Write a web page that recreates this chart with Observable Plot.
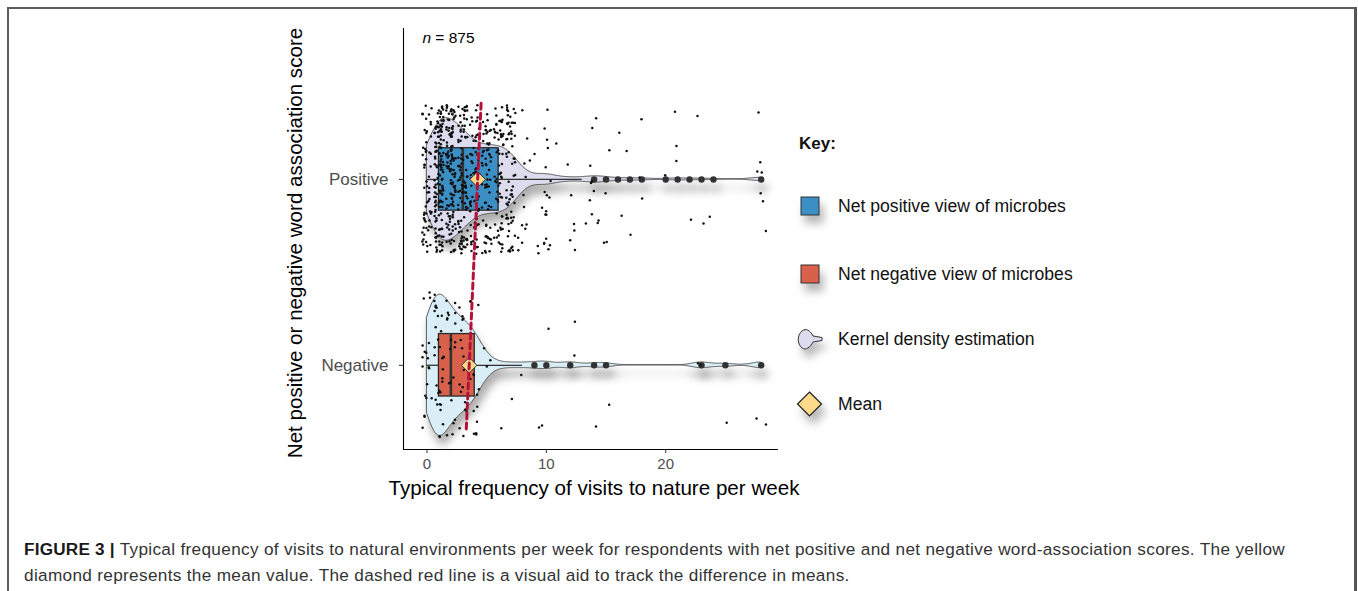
<!DOCTYPE html>
<html>
<head>
<meta charset="utf-8">
<script src="https://cdn.jsdelivr.net/npm/d3@7"></script>
<script src="https://cdn.jsdelivr.net/npm/@observablehq/plot@0.6"></script>
<style>
  html, body { margin: 0; padding: 0; background: #fff; overflow: hidden; }
  body { width: 1358px; height: 591px; position: relative; font-family: "Liberation Sans", Arial, Helvetica, sans-serif; }
  #frame { position: absolute; left: 7px; top: 7px; width: 1345px; height: 640px; border-top: 2px solid #5c5c5c; border-left: 2px solid #5c5c5c; border-right: 3px solid #555; }
  #chart { position: absolute; left: 0; top: 0; }
  #legend { position: absolute; left: 0; top: 0; pointer-events: none; }
  .cap { position: absolute; left: 24px; font-size: 17.2px; letter-spacing: 0.32px; color: #333; white-space: nowrap; }
  .cap b { color: #1a1a1a; letter-spacing: 0.2px; }
</style>
</head>
<body>
<div id="frame"></div>
<div id="chart"></div>
<svg id="legend" width="1358" height="591"></svg>
<div class="cap" id="cap1" style="top:539px"><b>FIGURE 3 |</b> Typical frequency of visits to natural environments per week for respondents with net positive and net negative word-association scores. The yellow</div>
<div class="cap" id="cap2" style="top:565px">diamond represents the mean value. The dashed red line is a visual aid to track the difference in means.</div>
<script>
// ---------------- data ----------------
const groups = ["Positive", "Negative"];
// distinct response values and how many respondents gave each
const positiveValues = [0, 1, 2, 3, 4, 5, 6, 7, 8, 9, 10, 11, 12, 13, 14, 15, 16, 17, 18, 20, 21, 22, 23, 24, 28];
const positiveCounts = [60, 140, 117, 100, 65, 65, 65, 65, 12, 4, 18, 1, 6, 1, 10, 4, 2, 2, 3, 1, 3, 1, 2, 1, 7];
const negativeValues = [0, 1, 2, 3, 4, 5, 6, 7, 8, 9, 10, 12, 14, 15, 23, 25, 28];
const negativeCounts = [19, 32, 20, 17, 14, 3, 1, 1, 1, 1, 2, 2, 1, 1, 2, 1, 2];
const xTicks = [0, 10, 20];
const sampleSize = 875;
const xTitle = "Typical frequency of visits to nature per week";
const yTitle = "Net positive or negative word association score";
const legendTitle = "Key:";
const legendLabels = ["Net positive view of microbes", "Net negative view of microbes", "Kernel density estimation", "Mean"];

// ---------------- styles ----------------
const boxFill = {Positive: "#3b8fc5", Negative: "#d9604b"};
const violinFill = {Positive: "#dcdcee", Negative: "#d9eef6"};
const violinHalf = {Positive: 0.33, Negative: 0.38};   // peak half-width (y units)
const boxHalf = 0.168;
const jitterW = 0.4, jitterH = 0.4;
const meanLineExtend = {top: 0.41, bottom: 0.36};
const xDomain = [-1.97, 29.45];
const yDomain = [0.547, 2.812];
const FONT = '"Liberation Sans", Arial, Helvetica, sans-serif';

// ---------------- derived statistics ----------------
function expand(values, counts) {
  const out = [];
  values.forEach((v, i) => { for (let j = 0; j < counts[i]; j++) out.push(v); });
  return out;
}
function kde(sample, h, lo, hi, n) {
  const res = [];
  const k = 1 / (sample.length * h * Math.sqrt(2 * Math.PI));
  for (let i = 0; i < n; i++) {
    const x = lo + (hi - lo) * i / (n - 1);
    let s = 0;
    for (const v of sample) { const u = (x - v) / h; s += Math.exp(-0.5 * u * u); }
    res.push({x, d: s * k});
  }
  return res;
}
const raw = {Positive: expand(positiveValues, positiveCounts), Negative: expand(negativeValues, negativeCounts)};

const stats = [], violin = [], outliers = [], jitter = [];
// deterministic (seeded) jitter offsets, as geom_jitter does
const rnd = d3.randomUniform.source(d3.randomLcg(0.4217))(-1, 1);
groups.forEach((g, gi) => {
  const center = groups.length - gi;
  const s = raw[g].slice().sort(d3.ascending);
  const n = s.length;
  const q1 = d3.quantile(s, 0.25), med = d3.quantile(s, 0.5), q3 = d3.quantile(s, 0.75);
  const iqr = q3 - q1;
  const lo = d3.min(s.filter(v => v >= q1 - 1.5 * iqr));
  const hi = d3.max(s.filter(v => v <= q3 + 1.5 * iqr));
  const mean = d3.mean(s);
  const sd = d3.deviation(s);
  const bw = 0.9 * Math.min(sd, iqr / 1.34) * Math.pow(n, -0.2);
  stats.push({group: g, center, q1, med, q3, lo, hi, mean, fill: boxFill[g]});
  const dens = kde(s, bw, s[0], s[n - 1], 512);
  const dmax = d3.max(dens, d => d.d);
  dens.forEach(p => {
    const w = p.d / dmax * violinHalf[g];
    violin.push({group: g, x: p.x, y1: center - w, y2: center + w, fill: violinFill[g]});
  });
  Array.from(new Set(s.filter(v => v < lo || v > hi))).forEach(v => outliers.push({group: g, x: v, y: center}));
  s.forEach(v => {
    jitter.push({x: v + rnd() * jitterW, y: center + rnd() * jitterH});
  });
});
const mP = stats[0].mean, mN = stats[1].mean;
const meanLine = [
  {x: mP + meanLineExtend.top * (mP - mN), y: stats[0].center + meanLineExtend.top},
  {x: mN - meanLineExtend.bottom * (mP - mN), y: stats[1].center - meanLineExtend.bottom}
];

// ---------------- plot ----------------
const chart = Plot.plot({
  width: 1358,
  height: 520,
  marginLeft: 403,
  marginRight: 580,
  marginTop: 28,
  marginBottom: 71,
  style: {fontFamily: FONT, background: "transparent", overflow: "visible"},
  x: {domain: xDomain, axis: null},
  y: {domain: yDomain, axis: null},
  color: {type: "identity"},
  marks: [
    Plot.areaY(violin, {x: "x", y1: "y1", y2: "y2", z: "group", fill: "fill", stroke: "#333", strokeWidth: 0.8}),
    Plot.dot(outliers, {x: "x", y: "y", r: 3.2, fill: "#333"}),
    Plot.ruleY(stats, {y: "center", x1: "lo", x2: "q1", stroke: "#333", strokeWidth: 1.3}),
    Plot.ruleY(stats, {y: "center", x1: "q3", x2: "hi", stroke: "#333", strokeWidth: 1.3}),
    Plot.rect(stats, {x1: "q1", x2: "q3", y1: d => d.center - boxHalf, y2: d => d.center + boxHalf, fill: "fill", stroke: "#2a2a2a", strokeWidth: 1.3}),
    Plot.ruleX(stats, {x: "med", y1: d => d.center - boxHalf, y2: d => d.center + boxHalf, stroke: "#333", strokeWidth: 2.6}),
    Plot.dot(jitter, {x: "x", y: "y", r: 1.25, fill: "#111"}),
    Plot.dot(stats, {x: "mean", y: "center", symbol: "diamond2", r: 7, fill: "#fdd98a", stroke: "#333", strokeWidth: 1}),
    Plot.line(meanLine, {x: "x", y: "y", stroke: "#b5123b", strokeWidth: 3, strokeDasharray: "6,4"}),
    Plot.ruleX([xDomain[0]], {y1: yDomain[0], y2: yDomain[1], stroke: "#000", strokeWidth: 1.1}),
    Plot.ruleY([yDomain[0]], {x1: xDomain[0], x2: xDomain[1], stroke: "#000", strokeWidth: 1.1}),
    Plot.axisX(xTicks, {tickSize: 4, tickPadding: 5, fontSize: 15, fill: "#4d4d4d", stroke: "#333", label: null}),
    Plot.axisY(groups.map((g, i) => groups.length - i), {tickFormat: d => groups[groups.length - d], tickSize: 4, tickPadding: 11, fontSize: 17, fill: "#4d4d4d", stroke: "#333", label: null}),
    Plot.text([xTitle], {frameAnchor: "bottom", textAnchor: "middle", dx: 3, dy: 45, fontSize: 20.6, fill: "#000"}),
    Plot.text([yTitle], {frameAnchor: "left", textAnchor: "middle", rotate: -90, dx: -108, dy: 4, fontSize: 20.6, fill: "#000"}),
    Plot.text(["n"], {frameAnchor: "top-left", lineAnchor: "top", textAnchor: "start", dx: 19, dy: 3.5, fontSize: 15.5, fontStyle: "italic", fill: "#000"}),
    Plot.text([" = " + sampleSize], {frameAnchor: "top-left", lineAnchor: "top", textAnchor: "start", dx: 27.5, dy: 3.5, fontSize: 15.5, fill: "#000"})
  ]
});
// soft drop shadow under the violins and outliers
const defs = document.createElementNS("http://www.w3.org/2000/svg", "defs");
defs.innerHTML = '<filter id="sh" x="-10%" y="-60%" width="125%" height="240%"><feDropShadow dx="3" dy="9" stdDeviation="4.5" flood-color="#000" flood-opacity="0.32"/></filter>';
chart.insertBefore(defs, chart.firstChild);
const areaG = chart.querySelector('g[aria-label="area"]');
if (areaG) areaG.setAttribute("filter", "url(#sh)");
const dotGs = chart.querySelectorAll('g[aria-label="dot"]');
if (dotGs[0]) dotGs[0].setAttribute("filter", "url(#sh)");
document.getElementById("chart").appendChild(chart);

// ---------------- key ----------------
const L = d3.select("#legend");
L.append("defs").html('<filter id="lsh" x="-50%" y="-50%" width="220%" height="240%"><feDropShadow dx="4" dy="8" stdDeviation="4" flood-color="#000" flood-opacity="0.28"/></filter>');
L.append("text").attr("x", 799).attr("y", 148.5).attr("font-family", FONT).attr("font-size", 17).attr("font-weight", "bold").attr("fill", "#111").text(legendTitle);
const itemY = [206, 274, 339, 404];
const icons = L.append("g").attr("filter", "url(#lsh)");
icons.append("rect").attr("x", 801).attr("y", itemY[0] - 9).attr("width", 18).attr("height", 18).attr("fill", boxFill.Positive).attr("stroke", "#333").attr("stroke-width", 1);
icons.append("rect").attr("x", 801).attr("y", itemY[1] - 9).attr("width", 18).attr("height", 18).attr("fill", boxFill.Negative).attr("stroke", "#333").attr("stroke-width", 1);
const y3 = itemY[2];
icons.append("path")
  .attr("d", `M802,${y3-8} C797,${y3-4} 797,${y3+5} 802,${y3+9} C806,${y3+12} 810,${y3+8} 813,${y3+3} L822,${y3+1.5} L822,${y3-1.5} L813,${y3-3} C810,${y3-9} 806,${y3-11} 802,${y3-8} Z`)
  .attr("fill", violinFill.Positive).attr("stroke", "#333").attr("stroke-width", 1);
const y4 = itemY[3];
icons.append("path").attr("d", `M809.5,${y4-12} L821.5,${y4} L809.5,${y4+12} L797.5,${y4} Z`).attr("fill", "#fdd98a").attr("stroke", "#222").attr("stroke-width", 1.2);
legendLabels.forEach((t, i) => {
  L.append("text").attr("x", 838).attr("y", itemY[i] + 6).attr("font-family", FONT).attr("font-size", 17.6).attr("fill", "#111").text(t);
});
</script>
</body>
</html>
